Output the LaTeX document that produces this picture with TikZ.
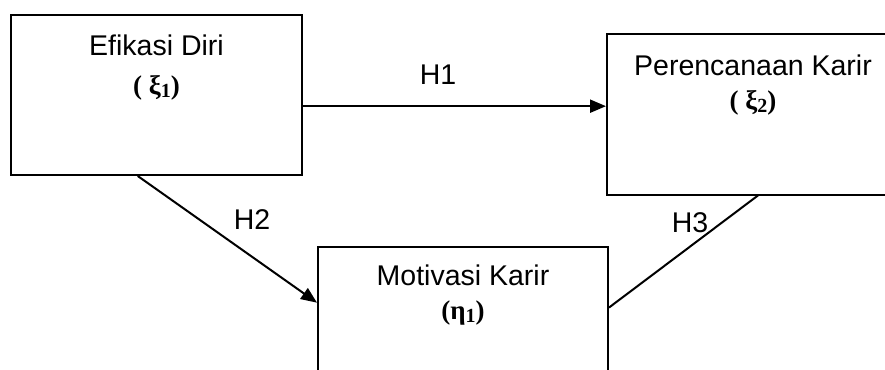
\documentclass[tikz,border=0pt]{standalone}
\usepackage{fontspec}
\setmainfont{Liberation Sans}
\newfontfamily\grk{Liberation Serif}
\newcommand\mysub[1]{\raisebox{-3pt}{\fontsize{20}{24}\selectfont #1}}
\usetikzlibrary{arrows.meta,calc}
\begin{document}
\begin{tikzpicture}[x=1pt,y=-1pt,
  box/.style={draw,line width=2pt,inner sep=0pt,minimum width=#1,minimum height=160pt},
  lbl/.style={font=\fontsize{28.5}{34}\selectfont,inner sep=0pt},
  sym/.style={font=\grk\bfseries\fontsize{27}{32}\selectfont,inner sep=0pt},
  conn/.style={line width=2pt},
  arr/.style={conn,-{Triangle[length=16pt,width=13pt]}}]
\clip (0,0) rectangle (885,369);
\node[box=291pt] (b1) at (156.5,95) {};
\node[box=293pt] (b2) at (753.5,114.5) {};
\node[box=290pt] (b3) at (463,327) {};
\node[lbl] (t1) at (156.5,45) {Efikasi Diri};
\node[sym] (s1) at (156.5,88) {( ξ\mysub{1})};
\node[lbl] (t2) at (753,65) {Perencanaan Karir};
\node[sym] (s2) at (753,103) {( ξ\mysub{2})};
\node[lbl] (t3) at (463,275) {Motivasi Karir};
\node[sym] (s3) at (463,313) {(η\mysub{1})};
\draw[arr] ($(b1.north east)!0.569!(b1.south east)$) coordinate (h1s)
  -- (h1s -| b2.west);
\draw[arr] ($(b1.south west)!0.436!(b1.south east)$) -- ($(b3.north west)!0.35!(b3.south west)$);
\draw[conn] ($(b2.south west)!0.515!(b2.south east)$) -- ($(b3.north east)!0.38!(b3.south east)$);
\node[lbl] (l1) at (438,75) {H1};
\node[lbl] (l2) at (252,220) {H2};
\node[lbl] (l3) at (690,223) {H3};
\end{tikzpicture}
\end{document}
